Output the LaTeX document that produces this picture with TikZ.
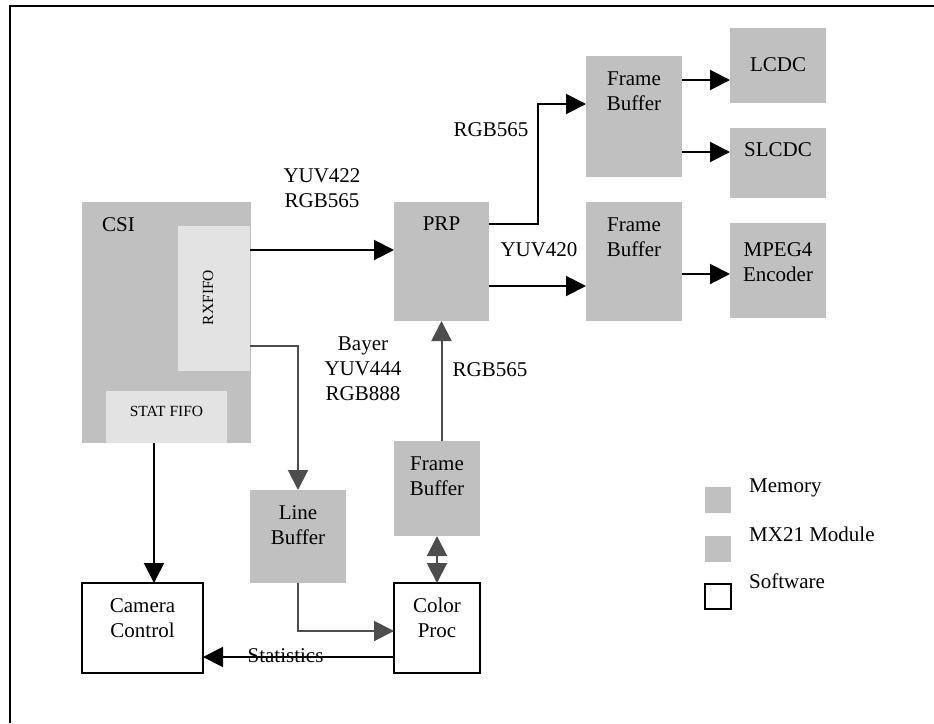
\documentclass[tikz,border=0pt]{standalone}
\usepackage{fontspec}
\setmainfont{Liberation Serif}
\usetikzlibrary{positioning, calc, arrows.meta}

\definecolor{boxgray}{HTML}{C0C0C0}
\definecolor{fifogray}{HTML}{E3E3E3}
\definecolor{linegray}{HTML}{4D4D4D}

\tikzset{
  tip/.tip={Triangle[length=20pt,width=20pt]},
  blk/.style={line width=2pt, -tip},
  gry/.style={blk, draw=linegray},
  mem/.style={fill=boxgray, inner sep=0pt, outer sep=0pt},
  sw/.style={draw=black, line width=2pt, fill=white, inner sep=0pt, outer sep=0pt},
  fifo/.style={fill=fifogray, inner sep=0pt, outer sep=0pt},
  txt/.style={inner sep=0pt, align=center, font=\fontsize{21}{25}\selectfont},
  small/.style={inner sep=0pt, font=\fontsize{15.5}{18}\selectfont},
}

\begin{document}
\begin{tikzpicture}[x=1pt, y=-1pt]
        \useasboundingbox (0,0) rectangle (934,723);

        % Frame
        \draw[line width=2pt] (10,723) -- (10,6) -- (934,6);

        % CSI with its fifos
        \node[mem, minimum width=169pt, minimum height=241pt] (csi) at (166.5,322.5) {};
        \node[fifo, minimum width=72pt, minimum height=145pt] (rx) at (214,298.5) {};
        \node[fifo, minimum width=121pt, minimum height=52pt] (stat) at (166.5,417) {};
        \node[txt, anchor=north west] (csit) at (102,217) {CSI};
        \node[small, rotate=90] (rxt) at (208,297.5) {RXFIFO};
        \node[small] (statt) at (166.5,411) {STAT FIFO};

        % MX21 modules and memories
        \node[mem, minimum width=95pt, minimum height=119pt] (prp) at (441.5,261.5) {};
        \node[mem, minimum width=96pt, minimum height=121pt] (fbA) at (634,116.5) {};
        \node[mem, minimum width=96pt, minimum height=119pt] (fbB) at (634,261.5) {};
        \node[mem, minimum width=96pt, minimum height=75pt] (lcdc) at (778,65.5) {};
        \node[mem, minimum width=96pt, minimum height=70pt] (slcdc) at (778,163) {};
        \node[mem, minimum width=96pt, minimum height=95pt] (mpeg) at (778,270.5) {};
        \node[mem, minimum width=86pt, minimum height=95pt] (fbC) at (437,488.5) {};
        \node[mem, minimum width=96pt, minimum height=93pt] (lbuf) at (298,536.5) {};

        % Software
        \node[sw, minimum width=121pt, minimum height=90pt] (cam) at (142.5,628) {};
        \node[sw, minimum width=86pt, minimum height=90pt] (cproc) at (437,628) {};

        % Box texts
        \node[txt, anchor=north] (prpt) at (441.5,217) {PRP};
        \node[txt, anchor=north] (fbAt) at (634,72) {Frame\\Buffer};
        \node[txt, anchor=north] (fbBt) at (634,218) {Frame\\Buffer};
        \node[txt, anchor=north] (fbCt) at (437,457) {Frame\\Buffer};
        \node[txt, anchor=north] (lcdct) at (778,57) {LCDC};
        \node[txt, anchor=north] (slcdct) at (778,142) {SLCDC};
        \node[txt, anchor=north] (mpegt) at (778,242) {MPEG4\\Encoder};
        \node[txt, anchor=north] (lbuft) at (298,505) {Line\\Buffer};
        \node[txt, anchor=north] (camt) at (142.5,598) {Camera\\Control};
        \node[txt, anchor=north] (cproct) at (437,598) {Color\\Proc};

        % Data format labels
        \node[txt, anchor=north] (fmtA) at (322,168) {YUV422\\RGB565};
        \node[txt, anchor=north] (fmtB) at (491,122) {RGB565};
        \node[txt, anchor=north] (fmtC) at (539,242) {YUV420};
        \node[txt, anchor=north] (fmtD) at (490,362) {RGB565};
        \node[txt, anchor=north] (fmtE) at (363,337) {Bayer\\YUV444\\RGB888};
        \node[txt, anchor=north] (statx) at (285.5,648) {Statistics};

        % Connectors
        \coordinate (rxA) at ([yshift=48.5pt]rx.east);
        \coordinate (rxB) at ([yshift=-47.5pt]rx.east);
        \coordinate (prpA) at ([yshift=37.5pt]prp.east);
        \coordinate (prpB) at ([yshift=-24.5pt]prp.east);
        \coordinate (fbAin) at ([yshift=12.5pt]fbA.west);
        \coordinate (fbAo1) at ([yshift=36.5pt]fbA.east);
        \coordinate (fbAo2) at ([yshift=-35.5pt]fbA.east);
        \coordinate (fbBo) at ([yshift=-12.5pt]fbB.east);
        \coordinate (cpo) at ([yshift=-29pt]cproc.west);
        \coordinate (csio) at ([xshift=-12.5pt]csi.south);

        \draw[blk] (rxA) -- (rxA -| prp.west);
        \draw[gry] (rxB) -| (lbuf.north);
        \draw[blk] (prpA) -| ($(prpA)!.5!(fbAin)$) |- (fbAin);
        \draw[blk] (prpB) -- (prpB -| fbB.west);
        \draw[blk] (fbAo1) -- (fbAo1 -| lcdc.west);
        \draw[blk] (fbAo2) -- (fbAo2 -| slcdc.west);
        \draw[blk] (fbBo) -- (fbBo -| mpeg.west);
        \draw[gry] (prp.south |- fbC.north) -- (prp.south);
        \draw[gry, tip-tip] (fbC.south) -- (cproc.north);
        \draw[gry] (lbuf.south) |- ([yshift=-3pt]cproc.west);
        \draw[blk] (cpo) -- (cpo -| cam.east);
        \draw[blk] (csio) -- (csio |- cam.north);

        % Legend
        \node[mem, minimum size=26pt] (memsq) at (718,500) {};
        \node[mem, minimum size=26pt] (modsq) at (718,549) {};
        \node[sw, minimum width=26pt, minimum height=25pt] (swsq) at (718,596.5) {};
        \node[txt, anchor=north west] (memt) at (749,479) {Memory};
        \node[txt, anchor=north west] (modt) at (749,527) {MX21 Module};
        \node[txt, anchor=north west] (swt) at (749,574) {Software};

\end{tikzpicture}
\end{document}
